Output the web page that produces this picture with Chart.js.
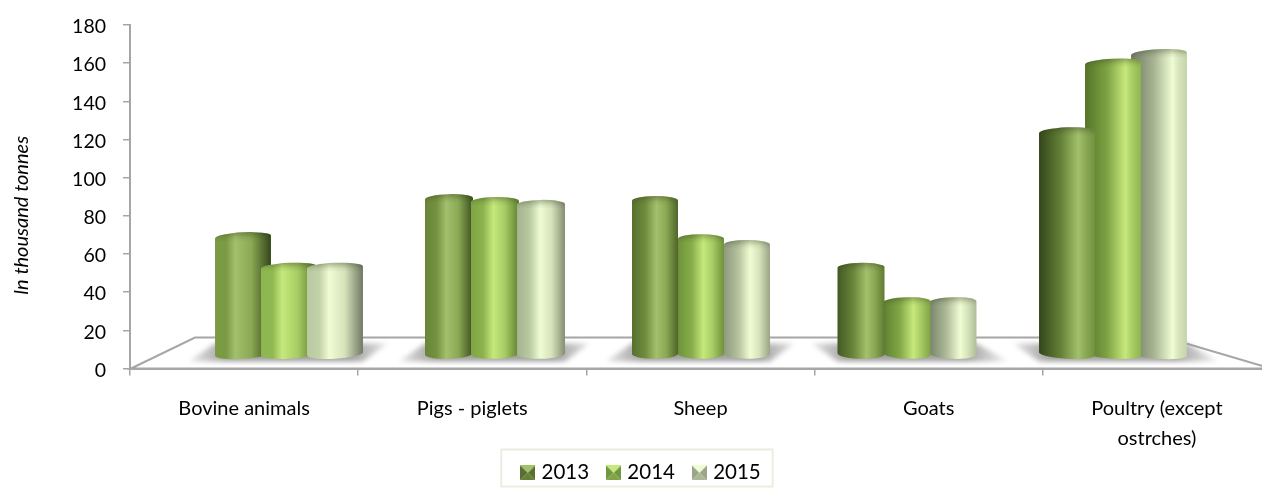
<!DOCTYPE html>
<html><head><meta charset="utf-8">
<style>html,body{margin:0;padding:0;background:#fff;overflow:hidden;width:1262px;height:488px}canvas{display:block}</style>
<script src="https://cdn.jsdelivr.net/npm/chart.js@4"></script></head>
<body><canvas id="c" width="1280" height="488" style="width:1280px;height:488px"></canvas>
<script>
const categories = ["Bovine animals", "Pigs - piglets", "Sheep", "Goats", ["Poultry (except", "ostrches)"]];
const years = ["2013", "2014", "2015"];
const values2013 = [69, 89, 88, 53, 124];
const values2014 = [53, 87.5, 68, 35, 160];
const values2015 = [53, 86, 65, 35, 165];
const yTicks = [0,20,40,60,80,100,120,140,160,180];
const floorValue = 7.7;

const FONT = 'Lato, "Open Sans", sans-serif';
const LINE = '#a6a6a6';
const drawWidths = [56, 48, 46, 47, 56];
const shadowLean = [1, 1, 1, -1, -1];
const palette = [
  {dark:[52,70,26], mid:[122,154,68], hi:[163,192,108]},
  {dark:[84,116,40], mid:[146,186,82], hi:[198,232,124]},
  {dark:[112,120,100], mid:[196,212,170], hi:[240,252,212]}
];
const mix = (a,b,t)=>`rgb(${a.map((v,i)=>Math.round(v+(b[i]-v)*t)).join(',')})`;

function cylinder(ctx, el, ds, cat, t){
  const w = drawWidths[cat], cx = el.x, yt = el.y, yb = el.base, rx = w/2, ry = 4.5;
  const p = palette[ds], hl = 0.36 + 0.38*t;
  const g = ctx.createLinearGradient(cx-rx,0,cx+rx,0);
  g.addColorStop(0, mix(p.mid,p.dark,Math.min(1,t*1.15)));
  g.addColorStop(hl*0.55, mix(p.mid,p.dark,t*0.35));
  g.addColorStop(hl, mix(p.hi,p.hi,0));
  g.addColorStop(hl+(1-hl)*0.45, mix(p.mid,p.hi,0.4));
  g.addColorStop(1, mix(p.mid,p.dark,Math.min(1,(1-t)*1.15)));
  const tiltB = (t-0.5)*0.14, tiltT = -Math.abs(t-0.5)*0.1;
  ctx.save();
  ctx.filter = 'blur(0.6px)';
  ctx.fillStyle = g;
  ctx.beginPath();
  ctx.ellipse(cx,yb,rx,ry+0.5,tiltB,0,Math.PI);
  ctx.ellipse(cx,yt,rx,ry,tiltT,Math.PI,Math.PI*2);
  ctx.closePath();
  ctx.fill();
  // top cap: darker back rim fading into the body
  const c = ctx.createLinearGradient(0,yt-ry,0,yt+ry);
  c.addColorStop(0,'rgba(40,50,20,0.34)');
  c.addColorStop(0.6,'rgba(40,50,20,0.08)');
  c.addColorStop(1,'rgba(40,50,20,0)');
  ctx.fillStyle = c;
  ctx.beginPath();
  ctx.ellipse(cx,yt,rx-0.5,ry,tiltT,Math.PI,Math.PI*2);
  ctx.lineTo(cx+rx-0.5,yt+ry);
  ctx.lineTo(cx-rx+0.5,yt+ry);
  ctx.closePath();
  ctx.fill();
  ctx.restore();
}

const LEGEND_LIFT = 15, LEGEND_SHIFT = 7;
const floorPlugin = {
  id:'floor',
  afterLayout(chart){
    // the axis box is tall enough for two-line labels; the legend sits just over its end
    const l = chart.legend;
    l.top -= LEGEND_LIFT; l.bottom -= LEGEND_LIFT;
    l.left += LEGEND_SHIFT; l.right += LEGEND_SHIFT;
    l.legendHitBoxes.forEach(h=>{h.left += LEGEND_SHIFT;});
  },
  beforeDatasetsDraw(chart){
    const ctx = chart.ctx, a = chart.chartArea;
    const yF = a.bottom, yB = yF-31;
    ctx.save();
    ctx.beginPath();
    ctx.moveTo(a.left+1,yF); ctx.lineTo(a.left+65,yB); ctx.lineTo(a.right-105,yB); ctx.lineTo(a.right,yF);
    ctx.closePath();
    ctx.fillStyle='#fff'; ctx.fill();
    ctx.strokeStyle=LINE; ctx.lineWidth=2; ctx.stroke();
    // contact shadows on the floor
    const metas = chart.getSortedVisibleDatasetMetas();
    categories.forEach((_,i)=>{
      const w = drawWidths[i];
      const L = metas[0].data[i].x-w/2, R = metas[2].data[i].x+w/2;
      const lean = shadowLean[i], top = yF-25, bot = yF-7;
      ctx.save();
      ctx.filter='blur(2.5px)';
      const g = ctx.createLinearGradient(L-30,0,R+30,0);
      g.addColorStop(0,'rgba(150,150,150,0.15)');
      g.addColorStop(0.2,'rgba(150,150,150,0.9)');
      g.addColorStop(0.8,'rgba(150,150,150,0.9)');
      g.addColorStop(1,'rgba(150,150,150,0.15)');
      ctx.fillStyle=g;
      ctx.beginPath();
      if(lean>0){ ctx.moveTo(L,top); ctx.lineTo(R+24,top); ctx.lineTo(R,bot); ctx.lineTo(L-26,bot); }
      else { ctx.moveTo(L-26,top); ctx.lineTo(R,top); ctx.lineTo(R+32,bot); ctx.lineTo(L,bot); }
      ctx.closePath(); ctx.fill();
      ctx.restore();
    });
    // cylinders: the bars nearer the viewer are painted last
    const first = metas[0].data[0].x, last = metas[2].data[categories.length-1].x;
    categories.forEach((_,i)=>{
      const order = i < 3 ? [0,1,2] : [2,1,0];
      order.forEach(d=>{
        const el = metas[d].data[i];
        cylinder(ctx, el.getProps(['x','y','base'],true), d, i, (el.x-first)/(last-first));
      });
    });
    ctx.restore();
    return false;
  },
  afterDraw(chart){
    const l = chart.legend, ctx = chart.ctx, h = l.legendHitBoxes;
    const x0 = h[0].left-23, x1 = h[2].left+h[2].width+12;
    ctx.save();
    ctx.strokeStyle='#eeece1'; ctx.lineWidth=2;
    ctx.strokeRect(x0, l.top+8, x1-x0, 37);
    ctx.restore();
  }
};

function marker(p){
  const s=15, c=document.createElement('canvas'); c.width=s; c.height=s;
  const x=c.getContext('2d');
  const tri=(a,b,col)=>{x.fillStyle=col;x.beginPath();x.moveTo(a[0],a[1]);x.lineTo(b[0],b[1]);x.lineTo(s/2,s/2);x.closePath();x.fill();};
  tri([0,s],[0,0],mix(p.mid,p.dark,0.5));
  tri([s,0],[s,s],mix(p.mid,p.dark,0.5));
  tri([s,s],[0,s],mix(p.mid,p.dark,0.3));
  tri([0,0],[s,0],mix(p.hi,p.hi,0));
  return c;
}

new Chart(document.getElementById('c'),{
  type:'bar',
  plugins:[floorPlugin],
  data:{
    labels:categories,
    datasets:[values2013,values2014,values2015].map((vals,d)=>({
      label:years[d],
      xAxisID:'x2',
      data:vals.map((v,i)=>({x:i,y:v})),
      base:floorValue,
      backgroundColor:mix(palette[d].mid,palette[d].mid,0),
      barThickness:46
    }))
  },
  options:{
    responsive:false,
    animation:false,
    layout:{padding:{top:25,right:9,left:0,bottom:-20}},
    plugins:{
      tooltip:{enabled:false},
      legend:{
        position:'bottom',
        labels:{
          font:{family:FONT,size:20.5},color:'#000',
          usePointStyle:true,pointStyleWidth:7,padding:21,
          generateLabels(chart){
            return Chart.defaults.plugins.legend.labels.generateLabels(chart).map((it,i)=>({...it,pointStyle:marker(palette[i])}));
          }
        }
      }
    },
    scales:{
      x:{
        type:'category',offset:true,
        grid:{offset:true,drawOnChartArea:false,color:LINE,tickLength:7,lineWidth:1.5},
        border:{color:LINE,width:2},
        ticks:{font:{family:FONT,size:20,lineHeight:1.5},color:'#000',padding:18,maxRotation:0,autoSkip:false},
        afterFit(s){s.height=88;}
      },
      x2:{type:'linear',display:false,offset:false,min:-0.7718,max:4.767,grid:{display:false}},
      y:{
        min:0,max:180,
        afterBuildTicks(s){s.ticks=yTicks.map(v=>({value:v}));},
        grid:{drawOnChartArea:false,color:LINE,tickLength:7,lineWidth:1.5},
        border:{color:LINE,width:2},
        ticks:{font:{family:FONT,size:19.5},color:'#000',padding:17,labelOffset:2},
        title:{display:true,text:'In thousand tonnes        ',color:'#000',font:{family:FONT,size:20,style:'italic'},padding:{top:10,bottom:0}},
        afterFit(s){s.width=130;s.paddingTop=0;s.paddingBottom=0;}
      }
    }
  }
});
</script></body></html>
